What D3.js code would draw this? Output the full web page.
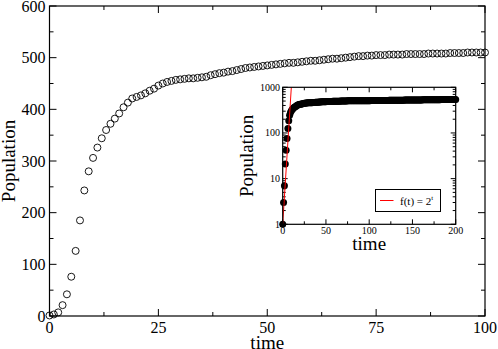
<!DOCTYPE html>
<html>
<head>
<meta charset="utf-8">
<script src="https://cdn.jsdelivr.net/npm/d3@7"></script>
<style>
  body { margin: 0; background: #fff; }
  svg { display: block; }
</style>
</head>
<body>
<div id="chart"></div>
<script>
// Population over time, t = 0..100 (main plot, open circles)
const popEarly = [
  1, 3, 7, 21, 42, 76, 126, 185, 243, 280,
  306, 326, 344, 360, 372, 382, 392, 404, 413, 421,
  424, 427, 431, 436, 440, 446, 450, 453, 455, 457,
  458, 459, 460, 460, 461, 462, 463, 466, 468, 470,
  471, 473, 474, 476, 478, 480, 481, 482, 483, 484,
  485, 486, 487, 488, 489, 490, 490, 491, 492, 493,
  494, 494, 495, 496, 497, 498, 498, 499, 500, 501,
  502, 503, 503, 504, 504, 505, 505, 505, 506, 506,
  506, 506, 507, 507, 507, 507, 507, 508, 508, 508,
  508, 508, 509, 509, 509, 509, 510, 510, 510, 510,
  510
];
// continuation t = 101..200 (only shown in the inset)
const popLate = [
  510, 511, 511, 511, 512, 512, 512, 513, 513, 513,
  514, 514, 514, 515, 515, 515, 516, 516, 516, 517,
  517, 517, 518, 518, 518, 519, 519, 519, 520, 520,
  520, 521, 521, 521, 522, 522, 522, 523, 523, 523,
  524, 524, 524, 525, 525, 525, 526, 526, 526, 527,
  527, 527, 528, 528, 528, 529, 529, 529, 530, 530,
  530, 531, 531, 531, 532, 532, 532, 533, 533, 533,
  534, 534, 534, 535, 535, 535, 536, 536, 536, 537,
  537, 537, 538, 538, 538, 539, 539, 539, 540, 540,
  540, 541, 541, 541, 542, 542, 542, 543, 543, 543
];
// f(t) = 2^t reference line endpoints (straight on a log axis)
const fitT = [0, 9.966];
const fitVals = [1, 1000];

const mainXTicks = [0, 25, 50, 75, 100];
const mainYTicks = [0, 100, 200, 300, 400, 500, 600];
const insetXTicks = [0, 50, 100, 150, 200];
const insetYTicks = [1, 10, 100, 1000];

const font = "'Liberation Serif', 'Times New Roman', serif";

const mainData = popEarly.map((v, i) => ({ t: i, v }));
const allData = popEarly.concat(popLate).map((v, i) => ({ t: i, v }));

const width = 498, height = 349;
const svg = d3.select("#chart").append("svg")
  .attr("width", width)
  .attr("height", height);

// ---------- main plot ----------
const x = d3.scaleLinear().domain([0, 100]).range([49.5, 485]);
const y = d3.scaleLinear().domain([0, 600]).range([316, 6]);

const main = svg.append("g");

// frame
main.append("rect")
  .attr("x", x(0)).attr("y", y(600))
  .attr("width", x(100) - x(0)).attr("height", y(0) - y(600))
  .attr("fill", "none").attr("stroke", "#000").attr("stroke-width", 1.2);

// inward ticks on all four sides
const xMinor = d3.range(0, 100.1, 12.5);
const yMinor = d3.range(0, 600.1, 50);
function tickLen(isMajor) { return isMajor ? 7 : 4; }
xMinor.forEach(t => {
  const L = tickLen(t % 25 === 0);
  main.append("line").attr("x1", x(t)).attr("x2", x(t)).attr("y1", y(0)).attr("y2", y(0) - L);
  main.append("line").attr("x1", x(t)).attr("x2", x(t)).attr("y1", y(600)).attr("y2", y(600) + L);
});
yMinor.forEach(v => {
  const L = tickLen(v % 100 === 0);
  main.append("line").attr("x1", x(0)).attr("x2", x(0) + L).attr("y1", y(v)).attr("y2", y(v));
  main.append("line").attr("x1", x(100)).attr("x2", x(100) - L).attr("y1", y(v)).attr("y2", y(v));
});
main.selectAll("line").attr("stroke", "#000").attr("stroke-width", 1);

// tick labels
main.selectAll(".xl").data(mainXTicks).enter().append("text")
  .attr("x", d => x(d)).attr("y", 333)
  .attr("text-anchor", "middle")
  .style("font-family", font).style("font-size", "16px")
  .text(d => d);
main.selectAll(".yl").data(mainYTicks).enter().append("text")
  .attr("x", 45.5).attr("y", d => y(d)).attr("dy", "0.35em")
  .attr("text-anchor", "end")
  .style("font-family", font).style("font-size", "16px")
  .text(d => d);

// axis titles
main.append("text")
  .attr("x", (x(0) + x(100)) / 2).attr("y", 349)
  .attr("text-anchor", "middle")
  .style("font-family", font).style("font-size", "19px")
  .text("time");
main.append("text")
  .attr("transform", `translate(15, ${(y(0) + y(600)) / 2}) rotate(-90)`)
  .attr("text-anchor", "middle")
  .style("font-family", font).style("font-size", "19px")
  .text("Population");

// open circles
main.selectAll(".pt").data(mainData).enter().append("circle")
  .attr("cx", d => x(d.t)).attr("cy", d => y(d.v)).attr("r", 3.5)
  .attr("fill", "none").attr("stroke", "#000").attr("stroke-width", 0.9);

// ---------- inset ----------
const ix = d3.scaleLinear().domain([0, 200]).range([282.7, 455.7]);
const iy = d3.scaleLog().domain([1, 1000]).range([224.3, 87.3]);

const inset = svg.append("g");
inset.append("rect")
  .attr("x", ix(0)).attr("y", iy(1000))
  .attr("width", ix(200) - ix(0)).attr("height", iy(1) - iy(1000))
  .attr("fill", "#fff");

const clip = svg.append("clipPath").attr("id", "iclip").append("rect")
  .attr("x", ix(0)).attr("y", iy(1000))
  .attr("width", ix(200) - ix(0)).attr("height", iy(1) - iy(1000));

// inset ticks
const ticks = inset.append("g").attr("stroke", "#000").attr("stroke-width", 1);
d3.range(0, 200.1, 25).forEach(t => {
  const L = t % 50 === 0 ? 5 : 3;
  ticks.append("line").attr("x1", ix(t)).attr("x2", ix(t)).attr("y1", iy(1)).attr("y2", iy(1) - L);
  ticks.append("line").attr("x1", ix(t)).attr("x2", ix(t)).attr("y1", iy(1000)).attr("y2", iy(1000) + L);
});
iy.ticks().forEach(v => {
  const isMajor = insetYTicks.includes(v);
  const L = isMajor ? 5 : 3;
  ticks.append("line").attr("x1", ix(0)).attr("x2", ix(0) + L).attr("y1", iy(v)).attr("y2", iy(v));
  ticks.append("line").attr("x1", ix(200)).attr("x2", ix(200) - L).attr("y1", iy(v)).attr("y2", iy(v));
});

inset.selectAll(".ixl").data(insetXTicks).enter().append("text")
  .attr("x", d => ix(d)).attr("y", 234)
  .attr("text-anchor", "middle")
  .style("font-family", font).style("font-size", "10px")
  .text(d => d);
inset.selectAll(".iyl").data(insetYTicks).enter().append("text")
  .attr("x", 280).attr("y", d => iy(d)).attr("dy", "0.35em")
  .attr("text-anchor", "end")
  .style("font-family", font).style("font-size", "10px")
  .text(d => d);

inset.append("text")
  .attr("x", (ix(0) + ix(200)) / 2).attr("y", 250)
  .attr("text-anchor", "middle")
  .style("font-family", font).style("font-size", "19px")
  .text("time");
inset.append("text")
  .attr("transform", `translate(253, ${(iy(1) + iy(1000)) / 2}) rotate(-90)`)
  .attr("text-anchor", "middle")
  .style("font-family", font).style("font-size", "19px")
  .text("Population");

// data (filled circles) and 2^t line
const plot = inset.append("g");
plot.selectAll(".ipt").data(allData).enter().append("circle")
  .attr("cx", d => ix(d.t)).attr("cy", d => iy(d.v)).attr("r", 3.5)
  .attr("fill", "#000");

const fitData = fitT.map((t, i) => ({ t, v: fitVals[i] }));
plot.append("path")
  .datum(fitData)
  .attr("clip-path", "url(#iclip)")
  .attr("d", d3.line().x(d => ix(d.t)).y(d => iy(d.v)))
  .attr("fill", "none").attr("stroke", "#ff0000").attr("stroke-width", 1);

// inset frame
inset.append("rect")
  .attr("x", ix(0)).attr("y", iy(1000))
  .attr("width", ix(200) - ix(0)).attr("height", iy(1) - iy(1000))
  .attr("fill", "none").attr("stroke", "#000").attr("stroke-width", 1.2);

// legend
const lg = inset.append("g");
lg.append("rect")
  .attr("x", 375.5).attr("y", 189.5).attr("width", 65).attr("height", 22)
  .attr("fill", "#fff").attr("stroke", "#000").attr("stroke-width", 1);
lg.append("line")
  .attr("x1", 380).attr("x2", 393.5).attr("y1", 200.5).attr("y2", 200.5)
  .attr("stroke", "#ff0000").attr("stroke-width", 1);
const lt = lg.append("text")
  .attr("x", 400).attr("y", 204.5)
  .style("font-family", font).style("font-size", "11px");
lt.append("tspan").text("f(t) = 2");
lt.append("tspan").attr("dy", -5).style("font-size", "7px").text("t");
</script>
</body>
</html>
